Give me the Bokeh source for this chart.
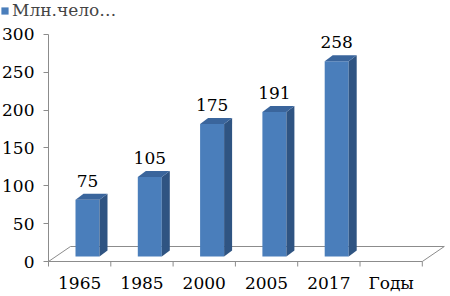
from bokeh.plotting import figure
from bokeh.models import FixedTicker, Legend, LegendItem
from bokeh.core.properties import value
from bokeh.embed import file_html
from bokeh.resources import INLINE

# ---- data ----
categories = ["1965", "1985", "2000", "2005", "2017", "Годы"]
years = ["1965", "1985", "2000", "2005", "2017"]
values = [75, 105, 175, 191, 258]
y_ticks = [0, 50, 100, 150, 200, 250, 300]
series_name = "Млн.чело…"

# ---- geometry (pixels -> data units) ----
W, H = 446, 294
X0 = 48          # pixel x of the value axis
Y0 = 261         # pixel y of value 0
PX_X = 62.3      # pixels per category
PX_Y = 0.757     # pixels per value unit
XL = -X0 / PX_X
XR = (W - X0) / PX_X
YT = Y0 / PX_Y
YB = -(H - Y0) / PX_Y

floor_dx = 22.0 / PX_X
floor_dy = 15.0 / PX_Y
bar_left = 27.0 / PX_X
bar_w = 24.0 / PX_X
bar_base = 5.0 / PX_Y
side_dx = 8.0 / PX_X
side_dy = 6.0 / PX_Y
lab_off = 19.0 / PX_Y
cat_lab_y = -21.0 / PX_Y
tick_len = 5.0 / PX_Y

FNAME = "DejaVu Serif"
FONT = value(FNAME)
FS = "17px"
FRONT = "#4a7ebb"
SIDE = "#2f5482"
TOP = "#3a659c"
GRAY = "#8c8c8c"

p = figure(width=W, height=H, x_range=(XL, XR), y_range=(YB, YT),
           output_backend="svg", toolbar_location=None, x_axis_type=None,
           min_border=0)
p.outline_line_color = None
p.grid.visible = False
p.background_fill_color = "white"
p.border_fill_color = "white"

ya = p.yaxis[0]
ya.fixed_location = 0
ya.ticker = FixedTicker(ticks=y_ticks)
ya.bounds = (0, 300)
ya.major_tick_out = 5
ya.major_tick_in = 0
ya.minor_tick_line_color = None
ya.axis_line_color = GRAY
ya.major_tick_line_color = GRAY
ya.major_label_text_font = FNAME
ya.major_label_text_font_size = FS
ya.major_label_text_color = "black"
ya.major_label_standoff = 9

n = len(categories)
# floor outline
p.line(x=[0, floor_dx, n + floor_dx, n, 0], y=[0, floor_dy, floor_dy, 0, 0],
       line_color=GRAY, line_width=1)
# boundary ticks on the category axis
p.segment(x0=list(range(n + 1)), y0=[0] * (n + 1), x1=list(range(n + 1)),
          y1=[-tick_len] * (n + 1), line_color=GRAY, line_width=1)

# bars
lefts = [i + bar_left for i in range(len(values))]
rights = [l + bar_w for l in lefts]
tops = [bar_base + v for v in values]
front = p.quad(left=lefts, right=rights, bottom=[bar_base] * len(values), top=tops,
               fill_color=FRONT, line_color=None)
side_xs = [[r, r + side_dx, r + side_dx, r] for r in rights]
side_ys = [[bar_base, bar_base + side_dy, t + side_dy, t] for t in tops]
p.patches(xs=side_xs, ys=side_ys, fill_color=SIDE, line_color=None)
top_xs = [[l, l + side_dx, r + side_dx, r] for l, r in zip(lefts, rights)]
top_ys = [[t, t + side_dy, t + side_dy, t] for t in tops]
p.patches(xs=top_xs, ys=top_ys, fill_color=TOP, line_color=None)

# value labels
p.text(x=[(l + r) / 2 for l, r in zip(lefts, rights)], y=[t + lab_off for t in tops],
       text=[str(v) for v in values], text_font=FONT, text_font_size=FS,
       text_align="center", text_baseline="middle", text_color="black")

# category labels
p.text(x=[i + 0.5 for i in range(n)], y=[cat_lab_y] * n, text=categories,
       text_font=FONT, text_font_size=FS, text_align="center",
       text_baseline="middle", text_color="black")

legend = Legend(items=[LegendItem(label=series_name, renderers=[front])],
                location="top_left", orientation="horizontal",
                glyph_width=9, glyph_height=9, label_standoff=3,
                padding=0, margin=0, border_line_color=None,
                background_fill_alpha=0,
                label_text_font=FNAME, label_text_font_size=FS,
                label_height=16)
p.add_layout(legend)

open("out.html", "w").write(file_html(p, INLINE))
